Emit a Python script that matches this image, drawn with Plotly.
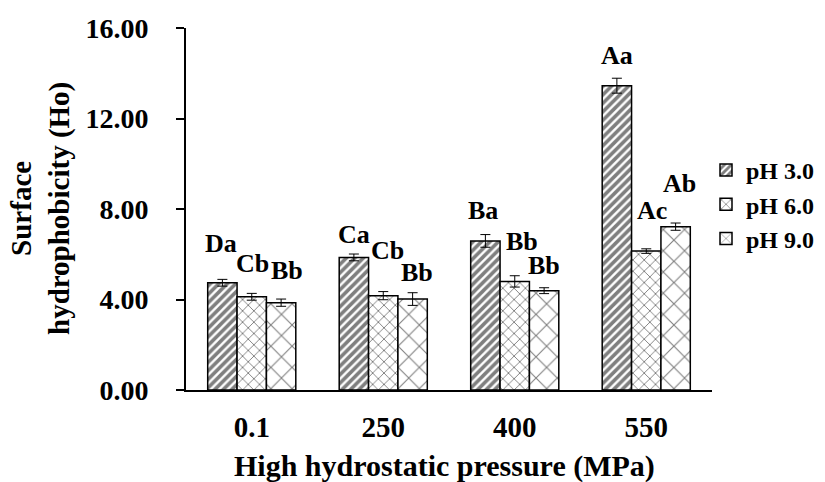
import plotly.graph_objects as go

categories = ["0.1", "250", "400", "550"]
series_names = ["pH 3.0", "pH 6.0", "pH 9.0"]
ph3 = [4.74, 5.86, 6.59, 13.45]
ph3_err = [0.15, 0.15, 0.28, 0.33]
ph6 = [4.12, 4.17, 4.80, 6.14]
ph6_err = [0.15, 0.18, 0.25, 0.10]
ph9 = [3.86, 4.02, 4.39, 7.22]
ph9_err = [0.16, 0.28, 0.13, 0.16]
letters_ph3 = ["Da", "Ca", "Ba", "Aa"]
letters_ph6 = ["Cb", "Cb", "Bb", "Ac"]
letters_ph9 = ["Bb", "Bb", "Bb", "Ab"]
y_ticks = [0, 4, 8, 12, 16]
y_tick_labels = ["0.00", "4.00", "8.00", "12.00", "16.00"]

FONT = "Liberation Serif, Times New Roman, serif"
values = [ph3, ph6, ph9]
errors = [ph3_err, ph6_err, ph9_err]
letters = [letters_ph3, letters_ph6, letters_ph9]
patterns = [
    dict(shape="/", size=6, solidity=0.6, fgcolor="black", bgcolor="white"),
    dict(shape="x", size=8, solidity=0.22, fgcolor="black", bgcolor="white"),
    dict(shape="x", size=15, solidity=0.14, fgcolor="black", bgcolor="white"),
]

bargap = 0.33
bar_w = (1 - bargap) / 3

fig = go.Figure()
for j in range(3):
    fig.add_trace(go.Bar(
        x=categories, y=values[j], name="<b>%s</b>" % series_names[j],
        marker=dict(color="white", line=dict(color="black", width=1.5), pattern=patterns[j]),
        error_y=dict(type="data", array=errors[j], color="black", thickness=1, width=5),
    ))

# label pixel adjustments (style/placement only)
label_yshift = [[36, 20, 24, 23], [30, 41, 34, 38], [29, 20, 22, 40]]
label_xshift = [[-1, 0, -2, 0], [1, 4, 7, 6], [6, 4, 0, 4]]
annotations = []
for j in range(3):
    for i in range(len(categories)):
        annotations.append(dict(
            x=i + (j - 1) * bar_w, y=values[j][i] + errors[j][i],
            xref="x", yref="y", text="<b>%s</b>" % letters[j][i], showarrow=False,
            yanchor="middle", xanchor="center",
            yshift=label_yshift[j][i], xshift=label_xshift[j][i],
            font=dict(family=FONT, size=26, color="black"),
        ))

L, R, T, B = 186, 113, 28, 92
pw, ph = 825 - L - R, 482 - T - B
annotations.append(dict(
    x=(40 - L) / pw, y=0.5, xref="paper", yref="paper", textangle=-90,
    text="<b>Surface<br>hydrophobicity (Ho)</b>", showarrow=False,
    xanchor="center", yanchor="middle",
    font=dict(family=FONT, size=29, color="black"),
))
annotations.append(dict(
    x=(444 - L) / pw, y=-(466 - 390) / ph, xref="paper", yref="paper",
    text="<b>High hydrostatic pressure (MPa)</b>", showarrow=False,
    xanchor="center", yanchor="middle",
    font=dict(family=FONT, size=30, color="black"),
))

fig.update_layout(
    width=825, height=482,
    margin=dict(l=L, r=R, t=T, b=B, autoexpand=False),
    paper_bgcolor="white", plot_bgcolor="white",
    barmode="group", bargap=bargap, bargroupgap=0,
    font=dict(family=FONT, size=26, color="black"),
    showlegend=True,
    legend=dict(x=(706 - L) / pw, y=(390 - 148) / ph, xanchor="left", yanchor="top",
                font=dict(family=FONT, size=24, color="black"),
                bgcolor="rgba(0,0,0,0)", tracegroupgap=0, itemwidth=30),
    annotations=annotations,
    shapes=[dict(type="line", xref="paper", yref="paper", x0=-9 / pw, x1=0, y0=0, y1=0,
                 line=dict(color="black", width=2))],
)
fig.update_xaxes(
    range=[-0.5, 3.5], showline=True, linecolor="black", linewidth=2,
    ticks="", showgrid=False, zeroline=False,
    tickfont=dict(family=FONT, size=29, color="black"),
    tickprefix="<b>", ticksuffix="</b>", ticklabelstandoff=10,
)
fig.update_yaxes(
    range=[0, 16], tickvals=y_ticks, ticktext=["<b>%s</b>" % t for t in y_tick_labels],
    showline=True, linecolor="black", linewidth=2, ticks="outside", ticklen=8,
    tickwidth=1.5, tickcolor="black", showgrid=False, zeroline=False,
    tickfont=dict(family=FONT, size=28, color="black"), ticklabelstandoff=22,
)
fig.write_html("out.html")
